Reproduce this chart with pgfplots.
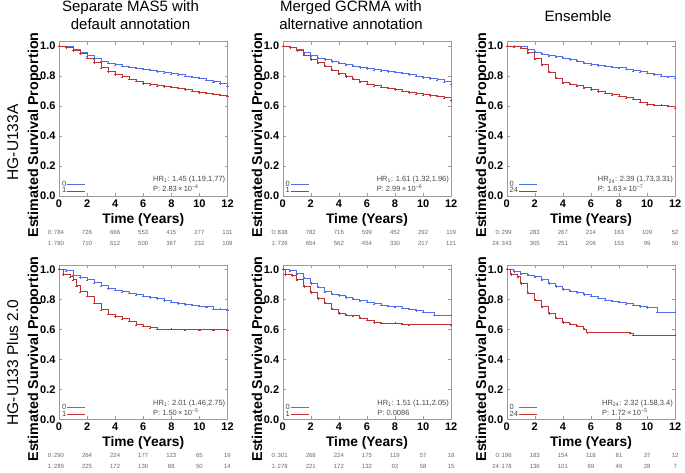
\documentclass[border=0pt]{standalone}
\usepackage{fontspec}
\setmainfont{Liberation Sans}
\usepackage{pgfplots}
\usepackage{pgfplotstable}
\pgfplotsset{compat=1.18}

\definecolor{kmblue}{RGB}{80,110,235}
\definecolor{kmred}{RGB}{195,50,50}
\definecolor{framegray}{RGB}{155,155,155}
\definecolor{txtgray}{RGB}{70,70,70}
\definecolor{riskgray}{RGB}{105,105,105}

\newcommand{\fs}[1]{\fontsize{#1}{#1}\selectfont}

% HG-U133A, separate MAS5
\pgfplotstableread{
t s
0 1.0
0.5 0.995
1 0.975
1.5 0.955
2 0.935
2.5 0.915
3 0.90
3.5 0.887
4 0.875
4.5 0.867
5 0.86
5.5 0.852
6 0.845
6.5 0.838
7 0.83
7.5 0.822
8 0.815
8.5 0.808
9 0.80
9.5 0.793
10 0.785
10.5 0.773
11 0.762
11.5 0.75
12 0.735
}\aBlueA
\pgfplotstableread{
t s
0 1.0
0.5 0.99
1 0.97
1.5 0.95
2 0.92
2.5 0.89
3 0.855
3.5 0.83
4 0.81
4.5 0.795
5 0.78
5.5 0.765
6 0.75
6.5 0.742
7 0.735
7.5 0.73
8 0.725
8.5 0.718
9 0.71
9.5 0.70
10 0.69
10.5 0.685
11 0.68
11.5 0.672
12 0.665
}\aRedA

% HG-U133A, merged GCRMA
\pgfplotstableread{
t s
0 1.0
0.5 0.99
1 0.975
1.5 0.955
2 0.935
2.5 0.92
3 0.91
3.5 0.897
4 0.885
4.5 0.875
5 0.865
5.5 0.857
6 0.85
6.5 0.842
7 0.835
7.5 0.83
8 0.825
8.5 0.818
9 0.81
9.5 0.80
10 0.79
10.5 0.783
11 0.775
11.5 0.762
12 0.745
}\aBlueB
\pgfplotstableread{
t s
0 1.0
0.5 0.99
1 0.97
1.5 0.94
2 0.91
2.5 0.888
3 0.865
3.5 0.84
4 0.815
4.5 0.797
5 0.78
5.5 0.762
6 0.745
6.5 0.735
7 0.725
7.5 0.718
8 0.71
8.5 0.70
9 0.69
9.5 0.682
10 0.675
10.5 0.67
11 0.665
11.5 0.655
12 0.64
}\aRedB

% HG-U133A, ensemble
\pgfplotstableread{
t s
0 1.0
0.5 0.998
1 0.995
1.5 0.975
2 0.96
2.5 0.945
3 0.935
3.5 0.928
4 0.92
4.5 0.91
5 0.90
5.5 0.885
6 0.875
6.5 0.87
7 0.865
7.5 0.86
8 0.855
8.5 0.845
9 0.835
9.5 0.828
10 0.82
10.5 0.81
11 0.80
11.5 0.795
12 0.785
}\aBlueC
\pgfplotstableread{
t s
0 1.0
0.5 0.995
1 0.985
1.5 0.955
2 0.915
2.5 0.875
3 0.825
3.5 0.785
4 0.755
4.5 0.745
5 0.735
5.5 0.722
6 0.71
6.5 0.697
7 0.685
7.5 0.675
8 0.665
8.5 0.655
9 0.645
9.5 0.625
10 0.61
10.5 0.607
11 0.605
11.5 0.60
12 0.585
}\aRedC

% HG-U133 Plus 2.0, separate MAS5
\pgfplotstableread{
t s
0 1.0
0.5 0.99
1 0.96
1.5 0.945
2 0.93
2.5 0.91
3 0.89
3.5 0.872
4 0.86
4.5 0.85
5 0.84
5.5 0.83
6 0.82
6.5 0.812
7 0.805
7.5 0.792
8 0.78
8.5 0.772
9 0.765
9.5 0.76
10 0.755
10.5 0.75
11 0.735
11.5 0.733
12 0.73
}\bBlueA
\pgfplotstableread{
t s
0 1.0
0.3 0.965
0.8 0.95
1 0.93
1.25 0.89
1.5 0.85
2 0.82
2.5 0.775
3 0.73
3.5 0.70
4 0.685
4.5 0.67
5 0.655
5.5 0.63
6 0.62
6.5 0.61
7 0.60
8 0.60
9 0.597
10 0.597
11 0.597
12 0.597
}\bRedA

% HG-U133 Plus 2.0, merged GCRMA
\pgfplotstableread{
t s
0 1.0
0.5 0.99
1 0.97
1.5 0.94
2 0.905
2.5 0.88
3 0.85
3.5 0.833
4 0.825
4.5 0.812
5 0.80
5.5 0.79
6 0.78
6.5 0.77
7 0.76
7.5 0.755
8 0.75
8.5 0.742
9 0.735
9.5 0.725
10 0.715
10.8 0.695
12 0.695
}\bBlueB
\pgfplotstableread{
t s
0 1.0
0.2 0.965
0.7 0.958
1 0.93
1.5 0.885
2 0.845
2.5 0.805
3 0.775
3.5 0.735
4 0.705
4.5 0.695
5 0.69
5.5 0.675
6 0.66
6.5 0.645
7 0.64
8 0.64
8.5 0.635
9 0.63
12 0.63
}\bRedB

% HG-U133 Plus 2.0, ensemble
\pgfplotstableread{
t s
0 1.0
0.5 0.985
1 0.97
1.5 0.96
2 0.95
2.5 0.93
3 0.905
3.5 0.885
4 0.865
4.5 0.855
5 0.845
5.5 0.832
6 0.82
6.5 0.807
7 0.795
7.5 0.787
8 0.78
8.5 0.77
9 0.76
9.5 0.752
10 0.745
10.7 0.715
12 0.715
}\bBlueC
\pgfplotstableread{
t s
0 1.0
0.3 0.965
0.8 0.95
1 0.905
1.5 0.84
2 0.795
2.5 0.75
3 0.705
3.5 0.675
4 0.645
4.5 0.635
5 0.62
5.5 0.60
5.7 0.578
8.8 0.575
9 0.56
12 0.56
}\bRedC

\pgfplotsset{
  km/.style={
    scale only axis, width=168.5pt, height=154.5pt,
    anchor=south west,
    xmin=0, xmax=12, ymin=0, ymax=1.03,
    xtick={0,2,4,6,8,10,12},
    ytick={0,0.2,0.4,0.6,0.8,1},
    yticklabel style={/pgf/number format/.cd, fixed, fixed zerofill, precision=1},
    /pgf/number format/assume math mode=true,
    ticklabel style={font=\fs{11}\bfseries},
    axis line style={framegray},
    tick style={framegray},
    tick align=inside, major tick length=3pt,
    legend style={at={(0.012,0.004)}, anchor=south west, draw=none, fill=none,
      font=\fs{7.5}, text=txtgray, inner sep=0pt, row sep=-1.5pt,
      nodes={inner sep=0.8pt}},
    legend plot pos=right, legend cell align=left,
    legend image code/.code={\draw[##1, line width=0.7pt] (0pt,0pt) -- (18pt,0pt);},
  },
  kmline/.style={#1, line width=0.9pt, const plot,
    mark=+, mark size=1.1pt, mark options={line width=0.35pt}},
}

\newcommand{\kmaxis}[7]{%
  \begin{axis}[km, at={(#1pt,-#2pt)}]
    \addplot[kmline=kmblue] table {#3};
    \addplot[kmline=kmred] table {#4};
    \legend{0,#5}
    \coordinate (pp) at (axis cs:0,0.027);
    \node[anchor=base east, font=\fs{7.5}, text=txtgray, inner sep=0pt] (hr) at (axis cs:11.85,0.095) {#6};
    \node[anchor=base west, font=\fs{7.5}, text=txtgray, inner sep=0pt] at (hr.base west |- pp) {#7};
  \end{axis}}

% number at risk: x of time 0, baseline y, group prefix, seven counts
\newcommand{\riskrow}[4]{%
  \foreach \n [count=\i from 0] in {#4} {%
    \node[anchor=base, font=\fs{6}, text=riskgray, inner sep=0pt]
      at ({#1pt+\i*28.08pt},-#2pt) {\ifnum\i=0 \llap{#3:\,}\fi\n};}}

\newcommand{\paneltext}[2]{% axis left, axis bottom
  \node[anchor=base, font=\fs{13.8}\bfseries] at ({#1pt+84.25pt},{-#2pt-27pt}) {Time (Years)};}

\begin{document}
\begin{tikzpicture}
\path[use as bounding box] (0pt,0pt) rectangle (685pt,-472pt);

% column titles
\node[anchor=base, font=\fs{15}] at (130.5pt,-11pt) {Separate MAS5 with};
\node[anchor=base, font=\fs{15}] at (130.5pt,-29pt) {default annotation};
\node[anchor=base, font=\fs{15}] at (351pt,-11pt) {Merged GCRMA with};
\node[anchor=base, font=\fs{15}] at (351pt,-29pt) {alternative annotation};
\node[anchor=base, font=\fs{15}] at (578pt,-21pt) {Ensemble};

% row titles
\node[anchor=base, rotate=90, font=\fs{15.5}] at (18pt,-142.5pt) {HG-U133A};
\node[anchor=base, rotate=90, font=\fs{15.5}] at (18pt,-362.5pt) {HG-U133 Plus 2.0};

% top row
\kmaxis{59}{196}{\aBlueA}{\aRedA}{1}{HR\textsubscript{1}: 1.45 (1.19,1.77)}{P: 2.83\,×\,10\textsuperscript{−4}}
\kmaxis{282.7}{196}{\aBlueB}{\aRedB}{1}{HR\textsubscript{1}: 1.61 (1.32,1.96)}{P: 2.99\,×\,10\textsuperscript{−6}}
\kmaxis{506.7}{196}{\aBlueC}{\aRedC}{24}{HR\textsubscript{24}: 2.39 (1.73,3.31)}{P: 1.63\,×\,10\textsuperscript{−7}}

% bottom row
\kmaxis{59}{419.3}{\bBlueA}{\bRedA}{1}{HR\textsubscript{1}: 2.01 (1.46,2.75)}{P: 1.50\,×\,10\textsuperscript{−5}}
\kmaxis{282.7}{419.3}{\bBlueB}{\bRedB}{1}{HR\textsubscript{1}: 1.51 (1.11,2.05)}{P: 0.0086}
\kmaxis{506.7}{419.3}{\bBlueC}{\bRedC}{24}{HR\textsubscript{24}: 2.32 (1.58,3.4)}{P: 1.72\,×\,10\textsuperscript{−5}}

% y labels
\foreach \xl/\yc in {38/135, 262/135, 486/135, 38/359, 262/359, 486/359}
  \node[anchor=base, rotate=90, font=\fs{14.3}\bfseries] at (\xl pt,-\yc pt) {Estimated Survival Proportion};

% x labels
\paneltext{59}{196}
\paneltext{282.7}{196}
\paneltext{506.7}{196}
\paneltext{59}{419.3}
\paneltext{282.7}{419.3}
\paneltext{506.7}{419.3}

% numbers at risk
\riskrow{59}{234}{0}{784,726,666,553,415,277,131}
\riskrow{59}{245}{1}{780,710,612,500,367,232,109}
\riskrow{282.7}{234}{0}{838,782,716,599,452,292,119}
\riskrow{282.7}{245}{1}{726,654,562,454,330,217,121}
\riskrow{506.7}{234}{0}{299,283,267,214,163,109,52}
\riskrow{506.7}{245}{24}{343,305,251,206,153,99,50}
\riskrow{59}{457.5}{0}{290,264,224,177,123,65,19}
\riskrow{59}{468}{1}{289,225,172,130,88,50,14}
\riskrow{282.7}{457.5}{0}{301,268,224,175,119,57,18}
\riskrow{282.7}{468}{1}{278,221,172,132,92,58,15}
\riskrow{506.7}{457.5}{0}{196,183,154,118,81,37,12}
\riskrow{506.7}{468}{24}{178,136,101,69,46,28,7}
\end{tikzpicture}
\end{document}
